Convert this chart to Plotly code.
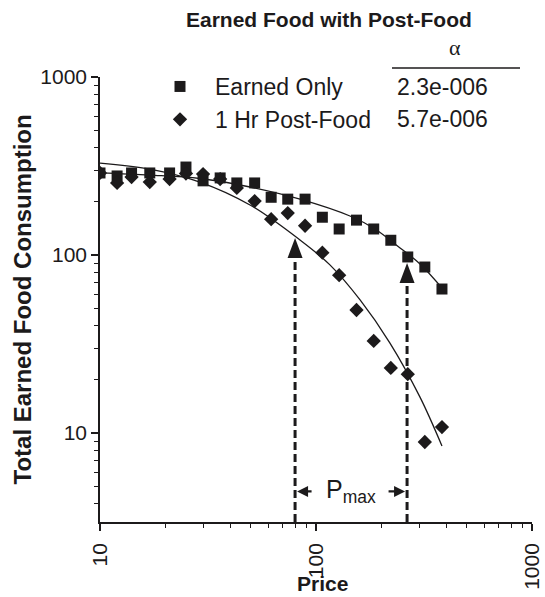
import numpy as np
import plotly.graph_objects as go

# ---------------- data ----------------
price = [10, 12, 14, 17, 21, 25, 30, 36, 43, 52, 62, 74, 89, 107, 128, 154, 185, 222, 266, 319, 383]
earned_only = [289, 278, 289, 289, 289, 312, 261, 271, 254, 254, 211, 206, 206, 163, 140, 157, 140, 121, 97.5, 85.6, 64.4]
post_food = [289, 254, 274, 257, 267, 287, 285, 267, 238, 201, 159, 172, 146, 103, 77, 49.1, 32.9, 23.2, 21.4, 8.9, 10.8]

# fitted demand curves
fit_price_earned = [10, 17.0, 29.0, 49.5, 84.3, 143.6, 187.5, 245, 303, 383]
fit_earned = [289, 281, 269, 241, 206, 165.6, 140, 109.5, 89.1, 65.3]
fit_price_post = [10, 17.0, 29.0, 49.5, 84.3, 116, 160, 220, 303, 383]
fit_post = [328.6, 304, 257, 191, 121.4, 88, 55.9, 32.0, 15.9, 8.45]

# Pmax markers
pmax = [80, 264]
pmax_tip = [124.6, 90.2]
pmax_base = [96.2, 69.7]

alpha_labels = ["2.3e-006", "5.7e-006"]
series_names = ["Earned Only", "1 Hr Post-Food"]
x_ticks = [10, 100, 1000]
y_ticks = [10, 100, 1000]
minor_vals = [2, 3, 4, 5, 6, 7, 8, 9, 20, 30, 40, 50, 60, 70, 80, 90, 200, 300, 400, 500, 600, 700, 800, 900]

INK = "#1c1a1b"
FONT = "Liberation Sans, Arial, Helvetica, sans-serif"

X_RANGE = [1, 3]
Y_RANGE = [0.5, 3]
y_bottom = 10 ** Y_RANGE[0]

fig = go.Figure()

# fitted curves
fig.add_trace(go.Scatter(x=fit_price_earned, y=fit_earned, mode="lines",
                         line=dict(color=INK, width=1.3, shape="spline"),
                         showlegend=False, hoverinfo="skip"))
fig.add_trace(go.Scatter(x=fit_price_post, y=fit_post, mode="lines",
                         line=dict(color=INK, width=1.3, shape="spline"),
                         showlegend=False, hoverinfo="skip"))

# Pmax dashed lines
for p, b in zip(pmax, pmax_base):
    fig.add_trace(go.Scatter(x=[p, p], y=[y_bottom, b], mode="lines",
                             line=dict(color=INK, width=3, dash="8px,4px"),
                             showlegend=False, hoverinfo="skip"))

# data markers
fig.add_trace(go.Scatter(x=price, y=earned_only, mode="markers", name=series_names[0],
                         legendgroup="a",
                         marker=dict(symbol="square", size=11, color=INK)))
fig.add_trace(go.Scatter(x=price, y=post_food, mode="markers", name=series_names[1],
                         legendgroup="b",
                         marker=dict(symbol="diamond", size=11, color=INK)))

shapes = []
# arrowheads (pixel-sized triangles anchored at the tip)
for p, t in zip(pmax, pmax_tip):
    shapes.append(dict(type="path", xref="x", yref="y", xsizemode="pixel", ysizemode="pixel",
                       xanchor=p, yanchor=t, path="M0,0 L-7.5,-20 L7.5,-20 Z",
                       fillcolor=INK, line=dict(width=0)))
# rule under alpha
shapes.append(dict(type="line", xref="paper", yref="paper",
                   x0=(392 - 100) / 432, x1=(520 - 100) / 432,
                   y0=1 + (77 - 68) / 445, y1=1 + (77 - 68) / 445,
                   line=dict(color=INK, width=1.5)))

annotations = []
# title
annotations.append(dict(text="<b>Earned Food with Post-Food</b>", xref="paper", yref="paper",
                        x=(329 - 100) / 432, y=1 + (77 - 20) / 445, xanchor="center", yanchor="middle",
                        showarrow=False, font=dict(family=FONT, size=21, color=INK)))
# axis titles
annotations.append(dict(text="<b>Total Earned Food Consumption</b>", xref="paper", yref="paper",
                        x=(22 - 100) / 432, y=0.5, xanchor="center", yanchor="middle", textangle=-90,
                        showarrow=False, font=dict(family=FONT, size=24, color=INK)))
annotations.append(dict(text="<b>Price</b>", xref="paper", yref="paper",
                        x=(322 - 100) / 432, y=-(583 - 522) / 445, xanchor="center", yanchor="middle",
                        showarrow=False, font=dict(family=FONT, size=21, color=INK)))
# alpha header and values
annotations.append(dict(text="α", xref="paper", yref="paper",
                        x=(455 - 100) / 432, y=1 + (77 - 47) / 445, xanchor="center", yanchor="middle",
                        showarrow=False, font=dict(family="Liberation Serif, Times New Roman, serif", size=22, color=INK)))
for lab, yc in zip(alpha_labels, [86.5, 118.5]):
    annotations.append(dict(text=lab, xref="paper", yref="paper",
                            x=(395 - 100) / 432, y=1 + (77 - yc) / 445, xanchor="left", yanchor="middle",
                            showarrow=False, font=dict(family=FONT, size=23, color=INK)))
# Pmax label with arrows
pm_center = float(np.sqrt(pmax[0] * pmax[1]))
pm_y = 4.75
annotations.append(dict(text="P<sub>max</sub>", xref="x", yref="y",
                        x=np.log10(pm_center), y=np.log10(pm_y), xanchor="center", yanchor="middle",
                        showarrow=False, font=dict(family=FONT, size=25, color=INK)))
annotations.append(dict(text="", xref="x", yref="y", x=np.log10(pmax[0]), y=np.log10(pm_y) - 0.005,
                        ax=18, ay=0, showarrow=True, arrowhead=2, arrowsize=1, arrowwidth=2.2,
                        arrowcolor=INK, standoff=2))
annotations.append(dict(text="", xref="x", yref="y", x=np.log10(pmax[1]), y=np.log10(pm_y) - 0.005,
                        ax=-20, ay=0, showarrow=True, arrowhead=2, arrowsize=1, arrowwidth=2.2,
                        arrowcolor=INK, standoff=2))

axis_common = dict(type="log", showgrid=False, zeroline=False, showline=True, linecolor=INK,
                   linewidth=1.5, ticks="outside", ticklen=7, tickwidth=1.5, tickcolor=INK,
                   tickmode="array", tickfont=dict(family=FONT, size=21, color=INK),
                   minor=dict(tickmode="array", tickvals=minor_vals, ticks="outside", ticklen=4,
                              tickwidth=1.2, tickcolor=INK, showgrid=False),
                   mirror=False, automargin=False)

fig.update_layout(
    width=545, height=597,
    margin=dict(l=100, r=13, t=77, b=75),
    paper_bgcolor="white", plot_bgcolor="white",
    font=dict(family=FONT, color=INK),
    xaxis=dict(range=X_RANGE, tickvals=x_ticks, ticktext=[str(v) for v in x_ticks],
               tickangle=-90, ticklabelstandoff=4, **axis_common),
    yaxis=dict(range=Y_RANGE, tickvals=y_ticks, ticktext=[str(v) for v in y_ticks], **axis_common),
    legend=dict(x=(145 - 100) / 432, y=1 + (77 - 65) / 445, xanchor="left", yanchor="top",
                bgcolor="rgba(0,0,0,0)", font=dict(family=FONT, size=23, color=INK),
                itemwidth=60, traceorder="grouped", tracegroupgap=0),
    shapes=shapes,
    annotations=annotations,
)

fig.write_html("out.html")
